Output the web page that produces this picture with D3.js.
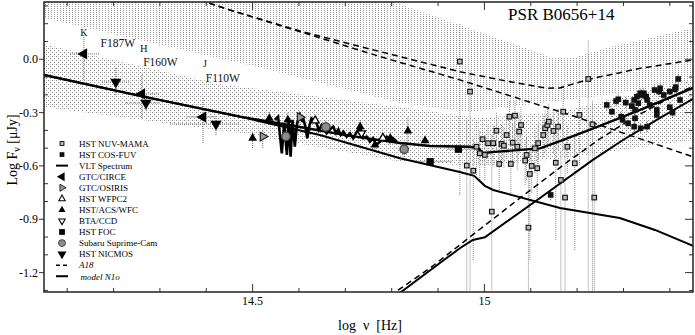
<!DOCTYPE html>
<html>
<head>
<meta charset="utf-8">
<script src="https://cdn.jsdelivr.net/npm/d3@7"></script>
<style>
  body { margin: 0; background: #fff; }
  svg { display: block; font-family: "Liberation Serif", "Times New Roman", serif; }
</style>
</head>
<body>
<svg id="chart" width="695" height="335"></svg>
<script>
// all values: x = log nu [Hz], y = log F_nu [uJy]

// NIR photometry
var circeX = [14.136, 14.261, 14.393],
  circeY = [0.030, -0.195, -0.325],
  circeLo = [-0.116, -0.330, -0.471],
  circeHi = [0.137, -0.088, -0.218],
  circeXLo = [14.106, 14.231, 14.358],
  circeXHi = [14.171, 14.300, 14.419];

var nicmosX = [14.205, 14.270, 14.421],
  nicmosY = [-0.128, -0.246, -0.364],
  nicmosLo = [-0.201, -0.285, -0.426],
  nicmosHi = [-0.049, -0.201, -0.313],
  nicmosXLo = [14.175, 14.225, 14.322],
  nicmosXHi = [14.236, 14.300, 14.473];

var filterNames = ["K", "F187W", "H", "F160W", "J", "F110W"],
  filterX = [14.128, 14.172, 14.257, 14.264, 14.393, 14.399],
  filterY = [0.131, 0.069, 0.041, -0.038, -0.043, -0.128],
  filterSize = [10, 11.5, 10.5, 11.5, 10, 11.5];

// optical photometry
var acsX = [14.500, 14.536, 14.576, 14.732, 14.764, 14.797, 14.835, 14.872],
  acsY = [-0.444, -0.332, -0.341, -0.379, -0.482, -0.444, -0.403, -0.458],
  acsLo = [-0.499, -0.370, -0.385, -0.415, -0.520, -0.480, -0.480, -0.490],
  acsHi = [-0.407, -0.296, -0.300, -0.340, -0.445, -0.410, -0.323, -0.430];

var osirisX = [14.522, 14.602],
  osirisY = [-0.435, -0.326],
  osirisLo = [-0.500, -0.370],
  osirisHi = [-0.400, -0.290];

var subaruX = [14.572, 14.658, 14.827],
  subaruY = [-0.434, -0.381, -0.506],
  subaruLo = [-0.480, -0.430, -0.550],
  subaruHi = [-0.390, -0.340, -0.460];

var btaX = [14.735], btaY = [-0.416];
var wfpc2X = [14.635, 14.781], wfpc2Y = [-0.345, -0.443];

var focX = [14.883, 14.944],
  focY = [-0.576, -0.506],
  focXLo = [14.860, 14.920],
  focXHi = [14.930, 14.975];

// UV: HST NUV-MAMA
var nuvX = [14.947, 14.969, 14.962, 14.976, 14.983, 14.990, 14.996, 15.001, 15.008, 15.016,
  15.019, 15.026, 15.032, 15.037, 15.042, 15.048, 15.054, 15.057, 15.061, 15.066,
  15.071, 15.075, 15.079, 15.088, 15.091, 15.095, 15.098, 15.102, 15.109, 15.114,
  15.116, 15.127, 15.131, 15.136, 15.139, 15.149, 15.154, 15.159, 15.165, 15.170,
  15.174, 15.179, 15.195, 15.205, 15.224, 15.233, 15.237];
var nuvY = [-0.013, -0.182, -0.598, -0.627, -0.492, -0.529, -0.450, -0.538, -0.472, -0.857,
  -0.472, -0.402, -0.589, -0.476, -0.486, -0.426, -0.323, -0.589, -0.469, -0.317,
  -0.492, -0.407, -0.370, -0.570, -0.538, -0.947, -0.645, -0.600, -0.501, -0.613,
  -0.472, -0.426, -0.388, -0.370, -0.351, -0.403, -0.582, -0.379, -0.679, -0.295,
  -0.778, -0.492, -0.585, -0.313, -0.111, -0.366, -0.778];
var nuvLo = [-0.763, -1.30, -1.30, -1.129, -0.651, -0.679, -0.595, -0.679, -0.595, -1.30,
  -0.595, -0.520, -0.735, -0.600, -0.610, -0.560, -0.454, -0.763, -0.600, -0.454,
  -0.620, -0.530, -0.500, -0.707, -0.680, -1.30, -1.129, -0.750, -0.640, -0.780,
  -0.600, -0.550, -0.520, -0.500, -0.480, -0.530, -1.017, -0.510, -1.30, -0.510,
  -1.30, -0.640, -1.073, -0.595, -1.30, -1.30, -1.30];
var nuvHi = [0.204, -0.060, -0.341, -0.450, -0.341, -0.398, -0.341, -0.426, -0.370, -0.426,
  -0.370, -0.300, -0.454, -0.370, -0.380, -0.320, -0.229, -0.454, -0.360, -0.229,
  -0.390, -0.300, -0.270, -0.450, -0.430, -0.621, -0.510, -0.480, -0.390, -0.490,
  -0.370, -0.320, -0.290, -0.270, -0.250, -0.300, -0.398, -0.280, -0.510, -0.145,
  -0.510, -0.370, -0.426, -0.200, 0.109, -0.229, -0.510];

// UV: HST COS-FUV
var cosX = [15.143, 15.264, 15.275, 15.284, 15.289, 15.295, 15.298, 15.305, 15.310, 15.318,
  15.323, 15.325, 15.323, 15.325, 15.329, 15.332, 15.336, 15.337, 15.339, 15.344,
  15.349, 15.351, 15.351, 15.357, 15.367, 15.372, 15.372, 15.377, 15.379, 15.387,
  15.400, 15.400, 15.406, 15.411, 15.413, 15.418, 15.422];
var cosY = [-0.763, -0.257, -0.295, -0.235, -0.225, -0.323, -0.341, -0.244, -0.360, -0.263,
  -0.229, -0.285, -0.379, -0.332, -0.210, -0.247, -0.191, -0.388, -0.201, -0.191,
  -0.210, -0.229, -0.379, -0.257, -0.173, -0.285, -0.313, -0.182, -0.163, -0.201,
  -0.182, -0.270, -0.300, -0.169, -0.157, -0.111, -0.229];

// VLT spectrum
var vltX = [14.548, 14.555, 14.563, 14.568, 14.574, 14.578, 14.582, 14.586, 14.591, 14.596,
  14.602, 14.606, 14.609, 14.613, 14.618, 14.622, 14.627, 14.632, 14.638, 14.643,
  14.649, 14.654, 14.660, 14.667, 14.674, 14.680, 14.685, 14.690, 14.696, 14.703,
  14.710, 14.717, 14.725, 14.732, 14.739, 14.746, 14.753, 14.760, 14.767, 14.775,
  14.782, 14.789, 14.796, 14.803, 14.811];
var vltY = [-0.341, -0.323, -0.529, -0.360, -0.538, -0.341, -0.548, -0.341, -0.492, -0.360,
  -0.313, -0.341, -0.332, -0.370, -0.444, -0.379, -0.332, -0.341, -0.360, -0.398,
  -0.370, -0.388, -0.416, -0.394, -0.379, -0.416, -0.394, -0.426, -0.407, -0.435,
  -0.416, -0.444, -0.407, -0.388, -0.444, -0.435, -0.463, -0.444, -0.482, -0.463,
  -0.444, -0.435, -0.463, -0.444, -0.463];

// model N1o
var n1oTotX = [14.050, 14.257, 14.473, 14.602, 14.710, 14.818, 14.883, 14.969, 14.986, 14.997,
  15.023, 15.120, 15.163, 15.249, 15.336, 15.450];
var n1oTotY = [-0.088, -0.206, -0.323, -0.381, -0.431, -0.471, -0.488, -0.492, -0.499, -0.527,
  -0.521, -0.501, -0.460, -0.375, -0.285, -0.161];
var n1oPlX = [14.050, 14.257, 14.473, 14.645, 14.818, 14.947, 14.978, 15.001, 15.019, 15.163,
  15.292, 15.368, 15.450];
var n1oPlY = [-0.088, -0.206, -0.323, -0.426, -0.557, -0.634, -0.656, -0.712, -0.735, -0.837,
  -0.893, -0.960, -1.050];
var n1oBbX = [14.807, 14.904, 14.947, 14.975, 15.001, 15.120, 15.234, 15.299, 15.379, 15.450];
var n1oBbY = [-1.335, -1.146, -1.063, -1.016, -1.001, -0.780, -0.566, -0.454, -0.330, -0.223];

// model A18
var a18TotX = [14.365, 14.451, 14.602, 14.775, 14.947, 15.034, 15.134, 15.163, 15.228, 15.336, 15.450];
var a18TotY = [0.351, 0.277, 0.159, 0.043, -0.070, -0.116, -0.163, -0.161, -0.111, -0.051, -0.004];
var a18PlX = [14.365, 14.451, 14.602, 14.775, 14.947, 15.185, 15.450];
var a18PlY = [0.351, 0.277, 0.155, 0.015, -0.116, -0.313, -0.549];
var a18BbX = [14.796, 14.883, 14.947, 14.969, 15.077, 15.185, 15.249, 15.314, 15.379, 15.450];
var a18BbY = [-1.331, -1.174, -1.044, -0.999, -0.780, -0.566, -0.448, -0.341, -0.246, -0.150];

// uncertainty bands (upper / lower edges)
var a18BandTopX = [14.050, 14.947, 15.141, 15.191, 15.264, 15.450];
var a18BandTopY = [1.000, 0.193, 0.013, 0.007, 0.064, 0.176];
var a18BandBotX = [14.050, 14.537, 14.818, 14.969, 15.120, 15.249, 15.450];
var a18BandBotY = [0.232, -0.060, -0.246, -0.296, -0.246, -0.206, -0.128];
var n1oBandTopX = [14.050, 14.430, 14.818, 14.990, 15.163, 15.450];
var n1oBandTopY = [0.085, -0.140, -0.268, -0.330, -0.296, -0.117];
var n1oBandBotX = [14.050, 14.473, 14.818, 14.990, 15.163, 15.450];
var n1oBandBotY = [-0.268, -0.415, -0.575, -0.600, -0.560, -0.454];

var legendNames = ["HST NUV-MAMA", "HST COS-FUV", "VLT Spectrum", "GTC/CIRCE", "GTC/OSIRIS",
  "HST WFPC2", "HST/ACS/WFC", "BTA/CCD", "HST FOC", "Subaru Suprime-Cam", "HST NICMOS", "A18", "model N1o"];
var legendKeys = ["nuv", "cos", "vlt", "circe", "osiris", "wfpc2", "acs", "bta", "foc", "subaru", "nicmos", "a18", "n1o"];

var xTicks = d3.range(14.1, 15.45, 0.1).map(function(d) { return +d.toFixed(1); });
var xLabels = [14.5, 15];
var yTicks = d3.range(-1.3, 0.35, 0.1).map(function(d) { return +d.toFixed(1); });
var yLabels = [0, -0.3, -0.6, -0.9, -1.2];

// ---------------------------------------------------------------
var svg = d3.select("#chart");
var x = d3.scaleLinear().domain([14.05, 15.45]).range([44, 693]);
var y = d3.scaleLinear().domain([-1.309, 0.322]).range([292, 2]);

var defs = svg.append("defs");
defs.append("clipPath").attr("id", "plotclip")
  .append("rect").attr("x", 44).attr("y", 2).attr("width", 649).attr("height", 290);

var p1 = defs.append("pattern").attr("id", "vhatch").attr("patternUnits", "userSpaceOnUse")
  .attr("width", 3).attr("height", 2);
p1.append("rect").attr("width", 1).attr("height", 1).attr("fill", "#9a9a9a");

var p2 = defs.append("pattern").attr("id", "dots").attr("patternUnits", "userSpaceOnUse")
  .attr("width", 4).attr("height", 4);
p2.append("rect").attr("x", 0).attr("y", 0).attr("width", 1).attr("height", 1).attr("fill", "#8a8a8a");
p2.append("rect").attr("x", 2).attr("y", 2).attr("width", 1).attr("height", 1).attr("fill", "#8a8a8a");
p2.append("rect").attr("x", 2).attr("y", 0).attr("width", 1).attr("height", 1).attr("fill", "#d4d4d4");

var plot = svg.append("g").attr("clip-path", "url(#plotclip)");

var line = d3.line().x(function(d) { return x(d[0]); }).y(function(d) { return y(d[1]); });

function band(tx, ty, bx, by) {
  var pts = d3.zip(tx, ty).concat(d3.zip(bx, by).reverse());
  return line(pts) + "Z";
}

plot.append("path").attr("d", band(a18BandTopX, a18BandTopY, a18BandBotX, a18BandBotY))
  .attr("fill", "url(#vhatch)");
plot.append("path").attr("d", band(n1oBandTopX, n1oBandTopY, n1oBandBotX, n1oBandBotY))
  .attr("fill", "url(#dots)");

// error bars
function vbars(xs, lo, hi, color) {
  plot.append("g").selectAll("line").data(xs).enter().append("line")
    .attr("x1", function(d) { return x(d); }).attr("x2", function(d) { return x(d); })
    .attr("y1", function(d, i) { return y(lo[i]); }).attr("y2", function(d, i) { return y(hi[i]); })
    .attr("stroke", color || "#666").attr("stroke-width", 1).attr("stroke-dasharray", "1,1");
}
function hbars(ys, lo, hi) {
  plot.append("g").selectAll("line").data(ys).enter().append("line")
    .attr("y1", function(d) { return y(d); }).attr("y2", function(d) { return y(d); })
    .attr("x1", function(d, i) { return x(lo[i]); }).attr("x2", function(d, i) { return x(hi[i]); })
    .attr("stroke", "#666").attr("stroke-width", 1).attr("stroke-dasharray", "1,1");
}
vbars(nuvX, nuvLo, nuvHi, "#888");
vbars(cosX, cosY.map(function(d) { return d - 0.03; }), cosY.map(function(d) { return d + 0.03; }), "#555");
vbars(circeX, circeLo, circeHi);
hbars(circeY, circeXLo, circeXHi);
vbars(nicmosX, nicmosLo, nicmosHi);
hbars(nicmosY, nicmosXLo, nicmosXHi);
vbars(acsX, acsLo, acsHi);
vbars(osirisX, osirisLo, osirisHi);
vbars(subaruX, subaruLo, subaruHi);
hbars(focY, focXLo, focXHi);

// model curves
function curve(xs, ys, width, dash) {
  plot.append("path").attr("d", line(d3.zip(xs, ys)))
    .attr("fill", "none").attr("stroke", "#000").attr("stroke-width", width)
    .attr("stroke-dasharray", dash || null);
}
curve(a18TotX, a18TotY, 1.5, "6,4");
curve(a18PlX, a18PlY, 1.5, "6,4");
curve(a18BbX, a18BbY, 1.5, "6,4");
curve(n1oPlX, n1oPlY, 2);
curve(n1oBbX, n1oBbY, 2);
curve(n1oTotX, n1oTotY, 2.4);
curve(vltX, vltY, 2.6);

// markers
function tri(size, angle) {
  return function(g) {
    g.append("path").attr("d", d3.symbol().type(d3.symbolTriangle).size(size)())
      .attr("transform", "rotate(" + angle + ")");
  };
}
var markerStyle = {
  nuv: function(g) { g.append("rect").attr("x", -2.3).attr("y", -2.3).attr("width", 4.6).attr("height", 4.6)
      .attr("fill", "#b8b8b8").attr("stroke", "#111").attr("stroke-width", 1.1); },
  cos: function(g) { g.append("rect").attr("x", -2.8).attr("y", -2.8).attr("width", 5.6).attr("height", 5.6)
      .attr("fill", "#111"); },
  foc: function(g) { g.append("rect").attr("x", -3.6).attr("y", -3.6).attr("width", 7.2).attr("height", 7.2)
      .attr("fill", "#000"); },
  circe: function(g) { tri(55, -90)(g); g.select("path").attr("fill", "#000"); },
  nicmos: function(g) { tri(55, 180)(g); g.select("path").attr("fill", "#000"); },
  acs: function(g) { tri(34, 0)(g); g.select("path").attr("fill", "#000"); },
  osiris: function(g) { tri(34, 90)(g); g.select("path").attr("fill", "#999").attr("stroke", "#222").attr("stroke-width", 1.2); },
  wfpc2: function(g) { tri(28, 0)(g); g.select("path").attr("fill", "#fff").attr("stroke", "#000").attr("stroke-width", 1.3); },
  bta: function(g) { tri(28, 180)(g); g.select("path").attr("fill", "#fff").attr("stroke", "#000").attr("stroke-width", 1.3); },
  subaru: function(g) { g.append("circle").attr("r", 4.2).attr("fill", "#8c8c8c")
      .attr("stroke", "#444").attr("stroke-width", 1.3); }
};

function points(key, xs, ys) {
  plot.append("g").selectAll("g").data(xs).enter().append("g")
    .attr("transform", function(d, i) { return "translate(" + x(d) + "," + y(ys[i]) + ")"; })
    .each(function() { markerStyle[key](d3.select(this)); });
}
points("nuv", nuvX, nuvY);
points("cos", cosX, cosY);
points("foc", focX, focY);
points("circe", circeX, circeY);
points("nicmos", nicmosX, nicmosY);
points("acs", acsX, acsY);
points("osiris", osirisX, osirisY);
points("wfpc2", wfpc2X, wfpc2Y);
points("bta", btaX, btaY);
points("subaru", subaruX, subaruY);

// filter names
svg.append("g").selectAll("text").data(filterNames).enter().append("text")
  .attr("x", function(d, i) { return x(filterX[i]); })
  .attr("y", function(d, i) { return y(filterY[i]); })
  .attr("font-size", function(d, i) { return filterSize[i]; })
  .attr("fill", "#111")
  .text(function(d) { return d; });

// legend
var leg = svg.append("g").attr("transform", "translate(62,143.5)");
legendKeys.forEach(function(k, i) {
  var row = leg.append("g").attr("transform", "translate(0," + (i * 11.06) + ")");
  if (k === "vlt" || k === "n1o") {
    row.append("line").attr("x1", -6).attr("x2", 6).attr("stroke", "#000").attr("stroke-width", 2);
  } else if (k === "a18") {
    row.append("line").attr("x1", -6).attr("x2", 6).attr("stroke", "#000").attr("stroke-width", 1.5)
      .attr("stroke-dasharray", "4,3");
  } else {
    var g = row.append("g").attr("transform", k === "nuv" || k === "cos" ? "scale(0.85)" : "scale(0.8)");
    markerStyle[k](g);
  }
  row.append("text").attr("x", 17).attr("y", 3.3).attr("font-size", 9)
    .attr("font-style", k === "a18" || k === "n1o" ? "italic" : null)
    .attr("dx", k === "n1o" ? 1.5 : 0)
    .text(legendNames[i]);
});

// axes
var ax = svg.append("g").attr("font-size", 12);
function tickLen(d, list, big, small) { return list.indexOf(d) >= 0 ? big : small; }

ax.append("g").selectAll("line").data(xTicks).enter().append("line")
  .attr("x1", function(d) { return x(d); }).attr("x2", function(d) { return x(d); })
  .attr("y1", 292).attr("y2", function(d) { return 292 - tickLen(d, xLabels, 8, 4); })
  .attr("stroke", "#333");
ax.append("g").selectAll("line").data(xTicks).enter().append("line")
  .attr("x1", function(d) { return x(d); }).attr("x2", function(d) { return x(d); })
  .attr("y1", 2).attr("y2", function(d) { return 2 + tickLen(d, xLabels, 8, 4); })
  .attr("stroke", "#333");
ax.append("g").selectAll("line").data(yTicks).enter().append("line")
  .attr("y1", function(d) { return y(d); }).attr("y2", function(d) { return y(d); })
  .attr("x1", function(d) { return yLabels.indexOf(d) >= 0 ? 39 : 44; })
  .attr("x2", function(d) { return yLabels.indexOf(d) >= 0 ? 44 : 48; })
  .attr("stroke", "#333");
ax.append("g").selectAll("line").data(yTicks).enter().append("line")
  .attr("y1", function(d) { return y(d); }).attr("y2", function(d) { return y(d); })
  .attr("x1", 693).attr("x2", function(d) { return 693 - tickLen(d, yLabels, 8, 4); })
  .attr("stroke", "#333");

ax.append("rect").attr("x", 44).attr("y", 2).attr("width", 649).attr("height", 290)
  .attr("fill", "none").attr("stroke", "#222").attr("stroke-width", 1.5);

ax.append("g").selectAll("text").data(xLabels).enter().append("text")
  .attr("x", function(d) { return x(d); }).attr("y", 305)
  .attr("text-anchor", "middle").text(function(d) { return d3.format("")(d); });
ax.append("g").selectAll("text").data(yLabels).enter().append("text")
  .attr("x", 38).attr("y", function(d) { return y(d); }).attr("dy", "0.35em")
  .attr("text-anchor", "end").text(function(d) { return d3.format(".1f")(d).replace("−", "-"); });

var xl = svg.append("text").attr("x", 370).attr("y", 330).attr("text-anchor", "middle")
  .attr("font-size", 14).attr("xml:space", "preserve");
xl.text("log  \u03bd  [Hz]");

var yl = svg.append("text").attr("transform", "translate(17,150) rotate(-90)")
  .attr("text-anchor", "middle").attr("font-size", 14);
yl.append("tspan").text("Log F");
yl.append("tspan").attr("font-size", 10).attr("dy", 3).text("\u03bd");
yl.append("tspan").attr("dy", -3).text(" [\u03bcJy]");

svg.append("text").attr("x", 508).attr("y", 20).attr("font-size", 17).text("PSR B0656+14");
</script>
</body>
</html>
